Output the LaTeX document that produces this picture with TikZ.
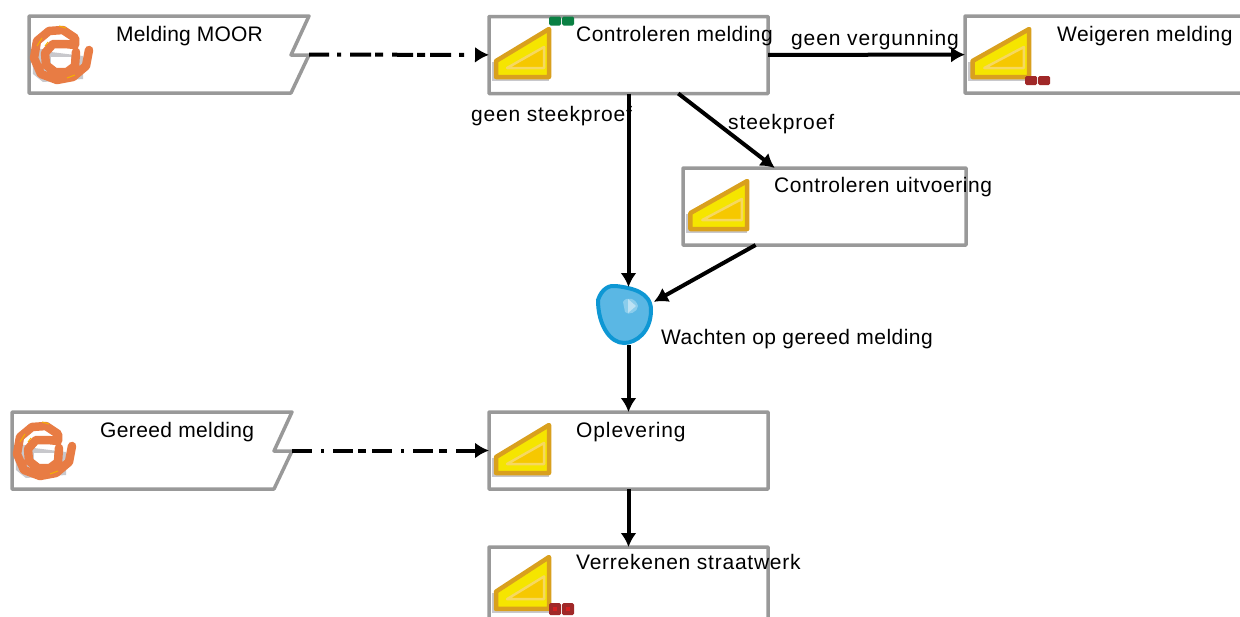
\documentclass[tikz,border=0pt]{standalone}
\usepackage{fontspec}
\setmainfont{Liberation Sans}
\usetikzlibrary{arrows.meta, positioning}
\definecolor{boxgrey}{RGB}{153, 153, 153}
\definecolor{shadowgrey}{RGB}{200, 200, 204}
\definecolor{wedgeedge}{RGB}{217, 160, 30}
\definecolor{wedgeyellow}{RGB}{245, 229, 0}
\definecolor{wedgeinner}{RGB}{246, 200, 0}
\definecolor{wedgeline}{RGB}{246, 216, 96}
\definecolor{spiralorange}{RGB}{232, 124, 68}
\definecolor{fleckyellow}{RGB}{245, 176, 0}
\definecolor{blobblue}{RGB}{14, 151, 212}
\definecolor{blobfill}{RGB}{90, 183, 228}
\definecolor{markergreen}{RGB}{10, 128, 67}
\definecolor{markerred}{RGB}{160, 40, 40}
\definecolor{markercore}{RGB}{212, 32, 32}

\begin{document}
\begin{tikzpicture}[
    x=1pt, y=-1pt,
    taskbox/.style={draw=boxgrey, line width=3.5pt, rounded corners=0.5pt, minimum width=279pt, minimum height=77pt, inner sep=0pt, outer sep=0pt},
    eventbox/.style={minimum width=280pt, minimum height=77pt, inner sep=0pt, outer sep=0pt},
    eventline/.style={draw=boxgrey, fill=white, line width=3.5pt, line join=round},
    waitbox/.style={circle, minimum size=58pt, inner sep=0pt, outer sep=0pt},
    txt/.style={font=\fontsize{21}{24}\selectfont\addfontfeature{LetterSpace=#1}, inner sep=0pt, anchor=west},
    arrow/.style={-{Latex[length=14pt, width=16pt]}, line width=4pt, black},
    moorarrow/.style={arrow, dash pattern=on 20pt off 8pt on 4pt off 9pt on 21pt off 4pt on 8pt off 9pt on 21pt off 4pt on 8pt off 5pt on 21pt off 8pt on 5pt off 30pt},
    gereedarrow/.style={arrow, dash pattern=on 20pt off 9pt on 3pt off 9pt on 20pt off 5pt on 8pt off 6pt on 20pt off 9pt on 3pt off 9pt on 20pt off 6pt on 8pt off 9pt on 30pt},
    marker/.style={rounded corners=1.5pt, minimum width=12pt, minimum height=9pt, inner sep=0pt},
    markerdot/.style={fill=markercore, minimum size=4pt, inner sep=0pt},
    wedge/.pic={
        \fill[shadowgrey] (3,46) -- (60,46) -- (60,65) -- (3,65) -- cycle;
        \draw[wedgeedge, fill=wedgeyellow, line width=4.5pt, line join=round] (60,13) -- (7,45) -- (7,61) -- (60,61) -- cycle;
        \draw[wedgeline, fill=wedgeinner, line width=2.5pt, line join=round] (55,31) -- (18,52) -- (55,52) -- cycle;
    },
    spiral/.pic={
        \fill[shadowgrey] (3,30) -- (4,58) -- (14,66) -- (54,63) -- (54,40) -- (22,36) -- cycle;
        \fill[white] (22,41) -- (42,41) -- (42,52) -- (22,52) -- cycle;
        \draw[spiralorange, line width=8.5pt, line join=round, line cap=round] (60,34) -- (57,50) -- (44,61) -- (28,64) -- (12,58) -- (5,42) -- (8,25) -- (20,15) -- (34,14) -- (46,22) -- (46,29) -- (36,28) -- (24,28) -- (16,37) -- (17,49) -- (26,56) -- (38,56) -- (46,50) -- (47,36);
        \draw[fleckyellow, line width=1pt] (8,30) -- (13,22) (30,10) -- (37,12) (38,62) -- (46,59) (16,30) -- (19,26);
    }
]
\clip (0,0) rectangle (1240,616);

% Events
\node[eventbox] (moor) at (169,54.5) {};
\draw[eventline] (29,16) -- (309,16) -- (291,55) -- (309,55) -- (291,93) -- (29,93) -- cycle;
\pic at (29,16) {spiral};
\node[eventbox] (gereed) at (152,450.5) {};
\draw[eventline] (12,412) -- (292,412) -- (274,451) -- (292,451) -- (274,489) -- (12,489) -- cycle;
\pic at (12,412) {spiral};

% Tasks
\node[taskbox] (controleren) at (628.5,55) {};
\node[taskbox, anchor=north west] (weigeren) at (965,16) {};
\node[taskbox, minimum width=283pt] (uitvoering) at (824.5,206.5) {};
\node[taskbox] (oplevering) at (628.5,450.5) {};
\node[taskbox, anchor=north] (verrekenen) at (628.5,547) {};

\pic at (489,16) {wedge};
\pic[xscale=1.07] at (965,16) {wedge};
\pic[xscale=1.07] at (683,168) {wedge};
\pic at (489,412) {wedge};
\pic[yscale=1.08] at (489,543) {wedge};

% Markers
\node[marker, fill=markergreen] (groen1) at (555,21) {};
\node[marker, fill=markergreen] (groen2) at (568,21) {};
\node[marker, fill=markerred] (rood1) at (1031,80.5) {};
\node[marker, fill=markerred] (rood2) at (1044,80.5) {};
\node[marker, fill=markerred, minimum height=12pt] (rood3) at (555,609) {};
\node[marker, fill=markerred, minimum height=12pt] (rood4) at (568,609) {};
\node[markerdot] (kern3) at (rood3) {};
\node[markerdot] (kern4) at (rood4) {};

% Wait state
\node[waitbox] (wachten) at (628.5,316) {};
\draw[blobblue, fill=blobfill, line width=4pt] (598,300) .. controls (602,288) and (610,285) .. (616,286) .. controls (632,288) and (651,292) .. (651,310) .. controls (651,332) and (636,343) .. (624,343) .. controls (610,343) and (598,325) .. (598,300) -- cycle;
\fill[blobfill!70!white] (623,302) .. controls (626,296) and (636,298) .. (638,306) .. controls (638,312) and (628,316) .. (625,312) -- cycle;
\fill[blobfill!40!white] (628,299) -- (636,306) -- (628,313) -- cycle;

% Arrows
\draw[moorarrow] (moor) -- (controleren);
\draw[gereedarrow] (gereed) -- (oplevering);
\draw[arrow] (controleren) -- (weigeren);
\draw[arrow] (controleren) -- (uitvoering);
\draw[arrow] (controleren) -- (wachten);
\draw[arrow] (uitvoering) -- (wachten);
\draw[arrow] (wachten) -- (oplevering);
\draw[arrow] (oplevering) -- (verrekenen);

% Labels
\node[txt=0.9] (tmoor) at (116,36) {Melding MOOR};
\node[txt=2.1] (tcontroleren) at (576,36) {Controleren melding};
\node[txt=2.2] (tweigeren) at (1057,36) {Weigeren melding};
\node[txt=2.7] (tuitvoering) at (774,187) {Controleren uitvoering};
\node[txt=1.8] (tgereed) at (100,432) {Gereed melding};
\node[txt=4.2] (toplevering) at (576,432) {Oplevering};
\node[txt=3.6] (tverrekenen) at (576,562) {Verrekenen straatwerk};
\node[txt=2.2] (twachten) at (661,339) {Wachten op gereed melding};
\node[txt=4.1] (tvergunning) at (791,40) {geen vergunning};
\node[txt=3.7] (tgeen) at (471,116) {geen steekproef};
\node[txt=4.2] (tsteek) at (728,124) {steekproef};

\end{tikzpicture}
\end{document}
